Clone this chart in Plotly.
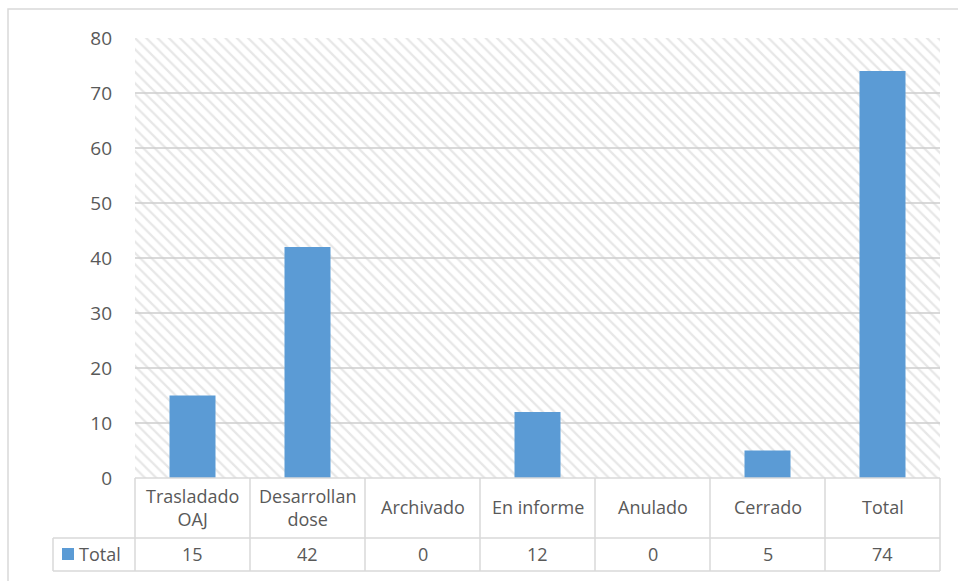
import plotly.graph_objects as go

categories = ["Trasladado<br>OAJ", "Desarrollan<br>dose", "Archivado", "En informe", "Anulado", "Cerrado", "Total"]
values = [15, 42, 0, 12, 0, 5, 74]
series_name = "Total"
y_ticks = [0, 10, 20, 30, 40, 50, 60, 70, 80]

W, H = 958, 581
L, R, T, B = 135, 18, 38, 103
PW, PH = W - L - R, H - T - B
BAR = "#5B9BD5"
GRID = "#d9d9d9"
TXT = "#595959"
FONT = "Open Sans"

def px(xp):
    return (xp - L) / PW

def py(yp):
    return (H - B - yp) / PH

n = len(categories)
xs = list(range(n))
x_range = [-0.5, n - 0.5]
y_range = [y_ticks[0], y_ticks[-1]]

fig = go.Figure()
# hatched plot-area background (a single full-width bar under the data bars)
fig.add_trace(go.Bar(
    x=[(x_range[0] + x_range[1]) / 2], y=[y_range[1]], width=[x_range[1] - x_range[0]],
    marker=dict(color="rgba(0,0,0,0)", line=dict(width=0),
                pattern=dict(shape="\\", fgcolor="#cfcfcf", bgcolor="rgba(0,0,0,0)",
                             size=8, solidity=0.28, fillmode="overlay")),
    hoverinfo="skip", showlegend=False))
fig.add_trace(go.Bar(x=xs, y=values, name=series_name, marker_color=BAR,
                     marker_line_width=0, width=0.4, showlegend=False))

shapes = []
line = dict(color=GRID, width=1.5)
# outer chart border
shapes.append(dict(type="rect", xref="paper", yref="paper",
                   x0=px(8), x1=px(W + 20), y0=py(9), y1=py(H + 20),
                   line=dict(color="#d9d9d9", width=1.5), layer="below"))
# table horizontal lines
shapes.append(dict(type="line", xref="paper", yref="paper", x0=0, x1=1, y0=0, y1=0, line=line))
shapes.append(dict(type="line", xref="paper", yref="paper", x0=px(53), x1=1, y0=py(538), y1=py(538), line=line))
shapes.append(dict(type="line", xref="paper", yref="paper", x0=px(53), x1=1, y0=py(571), y1=py(571), line=line))
# table vertical lines
for i in range(n + 1):
    xpap = i / n
    shapes.append(dict(type="line", xref="paper", yref="paper", x0=xpap, x1=xpap,
                       y0=0, y1=py(571), line=line))
shapes.append(dict(type="line", xref="paper", yref="paper", x0=px(53), x1=px(53),
                   y0=py(538), y1=py(571), line=line))
# legend key
shapes.append(dict(type="rect", xref="paper", yref="paper", x0=px(62), x1=px(74),
                   y0=py(548), y1=py(560), fillcolor=BAR, line=dict(width=0)))

annotations = []
for i, c in enumerate(categories):
    annotations.append(dict(x=i, xref="x", y=py(507), yref="paper", text=c,
                            showarrow=False, xanchor="center", yanchor="middle",
                            font=dict(family=FONT, size=18, color=TXT)))
    annotations.append(dict(x=i, xref="x", y=py(554), yref="paper", text=str(values[i]),
                            showarrow=False, xanchor="center", yanchor="middle",
                            font=dict(family=FONT, size=18, color=TXT)))
annotations.append(dict(x=px(77), xref="paper", y=py(554), yref="paper", text=series_name,
                        showarrow=False, xanchor="left", yanchor="middle",
                        font=dict(family=FONT, size=18, color=TXT)))

fig.update_layout(
    width=W, height=H,
    margin=dict(l=L, r=R, t=T, b=B, pad=0),
    paper_bgcolor="white", plot_bgcolor="white",
    shapes=shapes, annotations=annotations,
    barmode="overlay",
    xaxis=dict(range=x_range, showticklabels=False, showgrid=False, zeroline=False,
               showline=False, fixedrange=True),
    yaxis=dict(range=y_range, tickvals=y_ticks, showgrid=True, gridcolor=GRID, gridwidth=1.5,
               zeroline=False, showline=False, ticks="", ticklabelstandoff=22,
               tickfont=dict(family=FONT, size=19, color=TXT)),
)
fig.write_html("out.html", config={"displayModeBar": False},
               post_script="document.body.style.margin='0';document.body.style.overflow='hidden';")
